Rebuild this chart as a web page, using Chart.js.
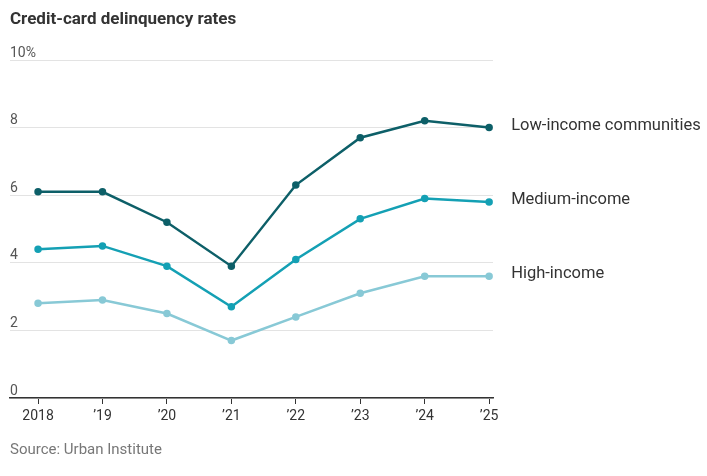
<!DOCTYPE html>
<html>
<head>
<meta charset="utf-8">
<script src="https://cdn.jsdelivr.net/npm/chart.js@4"></script>
<style>
    body { margin: 0; background: #fff; }
    #wrap { position: relative; width: 707px; height: 476px; }
    #title { position: absolute; left: 10px; top: 8px; font: bold 17px 'Liberation Sans Narrow', 'Roboto', sans-serif; color: #333; }
    #source { position: absolute; left: 10px; top: 440px; font: 15px 'Liberation Sans Narrow', 'Roboto', sans-serif; color: #777; }
</style>
</head>
<body>
<div id="wrap">
    <canvas id="chart" width="707" height="476"></canvas>
    <div id="title">Credit-card delinquency rates</div>
    <div id="source">Source: Urban Institute</div>
</div>
<script>
const years = ['2018', '\u201919', '\u201920', '\u201921', '\u201922', '\u201923', '\u201924', '\u201925'];
const lowIncome = [6.1, 6.1, 5.2, 3.9, 6.3, 7.7, 8.2, 8.0];
const mediumIncome = [4.4, 4.5, 3.9, 2.7, 4.1, 5.3, 5.9, 5.8];
const highIncome = [2.8, 2.9, 2.5, 1.7, 2.4, 3.1, 3.6, 3.6];
const seriesNames = ['Low-income communities', 'Medium-income', 'High-income'];
const yTicks = [0, 2, 4, 6, 8, 10];

const fontFamily = "'Liberation Sans Narrow', 'Roboto', sans-serif";

function makeSet(label, values, color) {
    return {
        label: label,
        data: values.map((v, i) => ({ x: i, y: v })),
        borderColor: color,
        backgroundColor: color,
        borderWidth: 2.5,
        pointRadius: 2.5,
        pointHoverRadius: 2.5,
        tension: 0
    };
}

// series name next to the last point
const endLabels = {
    id: 'endLabels',
    afterDatasetsDraw(chart) {
        const ctx = chart.ctx;
        ctx.save();
        ctx.font = '16.5px ' + fontFamily;
        ctx.fillStyle = '#333';
        ctx.textBaseline = 'middle';
        chart.data.datasets.forEach((ds, i) => {
            const pts = chart.getDatasetMeta(i).data;
            const last = pts[pts.length - 1];
            ctx.fillText(ds.label, last.x + 22, last.y - 2);
        });
        ctx.restore();
    }
};

const ctx = document.getElementById('chart').getContext('2d');
new Chart(ctx, {
    type: 'line',
    data: {
        datasets: [
            makeSet(seriesNames[0], lowIncome, '#0d5f68'),
            makeSet(seriesNames[1], mediumIncome, '#14a0b4'),
            makeSet(seriesNames[2], highIncome, '#88c9d6')
        ]
    },
    options: {
        responsive: false,
        animation: false,
        layout: { padding: { top: 60, left: 10, right: 214, bottom: 38 } },
        plugins: {
            legend: { display: false },
            tooltip: { enabled: false }
        },
        scales: {
            x: {
                type: 'linear',
                min: -0.435,
                max: 7.06,
                afterBuildTicks: (scale) => { scale.ticks = years.map((_, i) => ({ value: i })); },
                afterFit: (scale) => { scale.height = 40; },
                grid: { drawOnChartArea: false, drawTicks: true, tickLength: 6, color: '#333', lineWidth: 1 },
                border: { display: true, color: '#333', width: 1.5 },
                ticks: {
                    autoSkip: false,
                    maxRotation: 0,
                    padding: 4,
                    color: '#333',
                    font: { family: fontFamily, size: 14 },
                    callback: (v) => years[v]
                }
            },
            y: {
                min: 0,
                max: 10,
                afterBuildTicks: (scale) => { scale.ticks = yTicks.map(v => ({ value: v })); },
                afterFit: (scale) => { scale.width = 0; },
                grid: { color: '#e3e3e3', drawTicks: false, lineWidth: 1 },
                border: { display: false },
                ticks: {
                    mirror: true,
                    padding: 0,
                    labelOffset: -7,
                    color: '#555',
                    font: { family: fontFamily, size: 14 },
                    callback: (v) => v === 10 ? '10%' : String(v)
                }
            }
        }
    },
    plugins: [endLabels]
});
</script>
</body>
</html>
